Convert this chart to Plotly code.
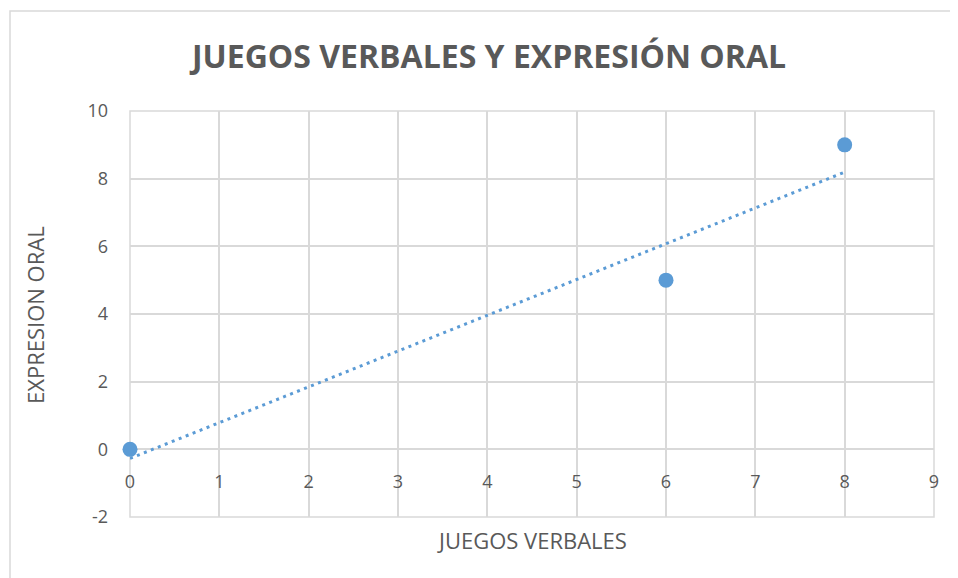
import numpy as np
import plotly.graph_objects as go

juegos_verbales = [0, 6, 8]
expresion_oral = [0, 5, 9]
x_ticks = [0, 1, 2, 3, 4, 5, 6, 7, 8, 9]
y_ticks = [-2, 0, 2, 4, 6, 8, 10]

blue = "#5b9bd5"
grid = "#d9d9d9"
txt = "#595959"
font_family = "Open Sans"

# linear trendline (least squares) from the data
slope, intercept = np.polyfit(juegos_verbales, expresion_oral, 1)
tx = [min(juegos_verbales), max(juegos_verbales)]
ty = [slope * v + intercept for v in tx]

fig = go.Figure()
fig.add_trace(go.Scatter(x=tx, y=ty, mode="lines",
                         line=dict(color=blue, width=3, dash="3px,4.5px"),
                         showlegend=False, hoverinfo="skip", cliponaxis=False))
fig.add_trace(go.Scatter(x=juegos_verbales, y=expresion_oral, mode="markers",
                         marker=dict(color=blue, size=15),
                         showlegend=False, cliponaxis=False))

OFF = 8  # page body margin
W, H = 958 - OFF, 578 - OFF
L, R, T, B = 130 - OFF, 24, 111 - OFF, 61
ph = H - T - B
pw = W - L - R
zero_pos = (0 - (-2)) / (10 - (-2))


def px_x(p):
    return (p - OFF - L) / pw


def px_y(p):
    return (H - B - (p - OFF)) / ph


fig.update_layout(
    width=W, height=H,
    margin=dict(l=L, r=R, t=T, b=B, autoexpand=False),
    paper_bgcolor="white", plot_bgcolor="white",
    font=dict(family=font_family, color=txt, size=18),
    title=dict(text="<b>JUEGOS VERBALES Y EXPRESIÓN ORAL</b>",
               x=(489 - OFF) / W, xanchor="center", y=1 - (57 - OFF) / H, yanchor="middle",
               font=dict(size=32, color=txt, family=font_family)),
    xaxis=dict(range=[0, 9], tickvals=x_ticks, ticktext=[str(v) for v in x_ticks],
               showgrid=True, gridcolor=grid,
               gridwidth=1.5, zeroline=False, showline=False,
               anchor="free", position=zero_pos, ticklabelstandoff=20,
               tickfont=dict(size=18, color=txt)),
    yaxis=dict(range=[-2, 10], tickvals=y_ticks, ticktext=[str(v) for v in y_ticks],
               showgrid=True, gridcolor=grid,
               gridwidth=1.5, zeroline=True, zerolinecolor=grid, zerolinewidth=1.5,
               showline=False, ticklabelstandoff=21,
               tickfont=dict(size=18, color=txt)),
    shapes=[
        dict(type="rect", xref="x domain", yref="y domain", x0=0, x1=1, y0=0, y1=1,
             line=dict(color=grid, width=1.5), layer="below"),
        dict(type="rect", xref="paper", yref="paper",
             x0=px_x(10), x1=1.2, y0=-0.3, y1=px_y(11),
             line=dict(color=grid, width=1.5), layer="below"),
    ],
    annotations=[
        dict(text="EXPRESION ORAL", xref="paper", yref="paper",
             x=px_x(35), y=px_y(315), textangle=-90,
             showarrow=False, xanchor="center", yanchor="middle",
             font=dict(size=22, color=txt)),
        dict(text="JUEGOS VERBALES", xref="paper", yref="paper",
             x=px_x(532), y=px_y(540),
             showarrow=False, xanchor="center", yanchor="middle",
             font=dict(size=22, color=txt)),
    ],
)

fig.write_html("out.html")
